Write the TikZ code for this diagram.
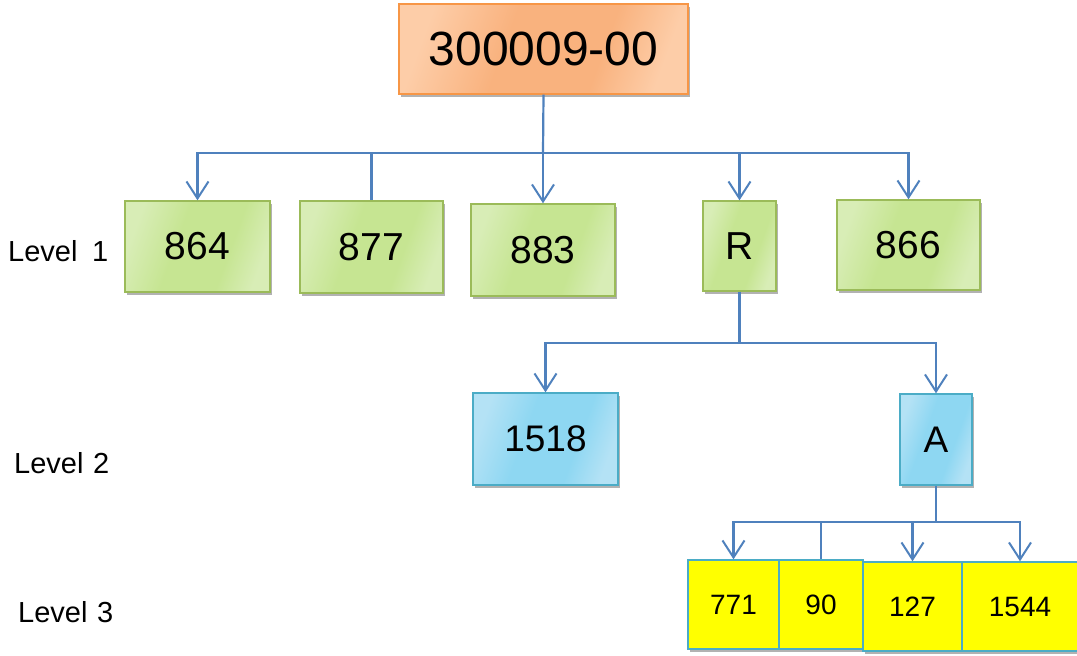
\documentclass[tikz,border=0pt]{standalone}
\usepackage{fontspec}
\setmainfont{Liberation Sans}
\usetikzlibrary{arrows.meta,shadows}
\definecolor{lineblue}{HTML}{4F81BD}
\definecolor{orL}{HTML}{FDCDA8}
\definecolor{orD}{HTML}{F9B27E}
\definecolor{orB}{HTML}{F79646}
\definecolor{grL}{HTML}{D8EDB6}
\definecolor{grD}{HTML}{C6E592}
\definecolor{grB}{HTML}{9BBB59}
\definecolor{blL}{HTML}{B4E2F5}
\definecolor{blD}{HTML}{8ED7F2}
\definecolor{blB}{HTML}{4BACC6}
\definecolor{yel}{HTML}{FFFF00}
\pgfdeclarehorizontalshading{orshade}{100bp}{color(0bp)=(orL); color(25bp)=(orL); color(42bp)=(orD); color(62bp)=(orD); color(75bp)=(orL); color(100bp)=(orL)}
\pgfdeclarehorizontalshading{grshade}{100bp}{color(0bp)=(grL); color(25bp)=(grL); color(42bp)=(grD); color(62bp)=(grD); color(75bp)=(grL); color(100bp)=(grL)}
\pgfdeclarehorizontalshading{blshade}{100bp}{color(0bp)=(blL); color(25bp)=(blL); color(42bp)=(blD); color(62bp)=(blD); color(75bp)=(blL); color(100bp)=(blL)}
\tikzset{
  box/.style={draw, line width=1.4pt, inner sep=0pt, align=center,
    drop shadow={shadow xshift=2pt, shadow yshift=-3pt, opacity=0.3, fill=black}},
  rootbox/.style={box, draw=orB, shading=orshade, shading angle=-20,
    font=\fontsize{48}{52}\selectfont},
  greenbox/.style={box, draw=grB, shading=grshade, shading angle=-20,
    font=\fontsize{39}{42}\selectfont},
  bluebox/.style={box, draw=blB, shading=blshade, shading angle=-20,
    font=\fontsize{37}{40}\selectfont},
  yelbox/.style={box, draw=blB, fill=yel, font=\fontsize{28}{30}\selectfont},
  conn/.style={draw=lineblue, line width=2.2pt},
  arr/.style={conn, -{Straight Barb[length=17pt, width=22pt, line width=2pt]}},
  lvl/.style={anchor=base west, inner sep=0pt, font=\fontsize{29}{30}\selectfont},
}
\begin{document}
\begin{tikzpicture}[x=1pt, y=-1pt]
\useasboundingbox (0,0) rectangle (1077,656);

% nodes
\node[rootbox, minimum width=289pt, minimum height=90pt] (root) at (543.5,49) {300009-00};

\node[greenbox, minimum width=145pt, minimum height=91pt] (n864) at (197.5,246.5) {864};
\node[greenbox, minimum width=143pt, minimum height=92pt] (n877) at (371.5,247) {877};
\node[greenbox, minimum width=144pt, minimum height=92pt] (n883) at (543,250) {883};
\node[greenbox, minimum width=73pt, minimum height=90pt] (nR) at (739.5,246) {R};
\node[greenbox, minimum width=143pt, minimum height=90pt] (n866) at (908.5,245) {866};

\node[bluebox, minimum width=145pt, minimum height=92pt] (n1518) at (545.5,439) {1518};
\node[bluebox, minimum width=72pt, minimum height=91pt] (nA) at (936,439.5) {A};

\node[yelbox, minimum width=91pt, minimum height=89pt] (n771) at (733.5,604.5) {771};
\node[yelbox, minimum width=84pt, minimum height=89pt] (n90) at (821,604.5) {90};
\node[yelbox, minimum width=99pt, minimum height=89pt] (n127) at (912.5,606.5) {127};
\node[yelbox, minimum width=116pt, minimum height=89pt] (n1544) at (1020,606.5) {1544};

% level labels
\node[lvl] (l1) at (8,261) {Level\,\,\,1};
\node[lvl] (l2) at (14,473) {Level\,\,2};
\node[lvl] (l3) at (18,622) {Level\,\,3};

% bus coordinates
\coordinate (b1) at (543,153);
\coordinate (b2) at (739.5,343);
\coordinate (b3) at (936,522);

% level 1 connectors
\draw[conn] (root.south) -- (b1);
\draw[arr] (b1) -| (n864.north);
\draw[conn] (b1) -| (n877.north);
\draw[arr] (b1) -- (n883.north);
\draw[arr] (b1) -| (nR.north);
\draw[arr] (b1) -| (n866.north);

% level 2 connectors
\draw[conn] (nR.south) -- (b2);
\draw[arr] (b2) -| (n1518.north);
\draw[arr] (b2) -| (nA.north);

% level 3 connectors
\draw[conn] (nA.south) -- (b3);
\draw[arr] (b3) -| (n771.north);
\draw[conn] (b3) -| (n90.north);
\draw[arr] (b3) -| (n127.north);
\draw[arr] (b3) -| (n1544.north);
\end{tikzpicture}
\end{document}
